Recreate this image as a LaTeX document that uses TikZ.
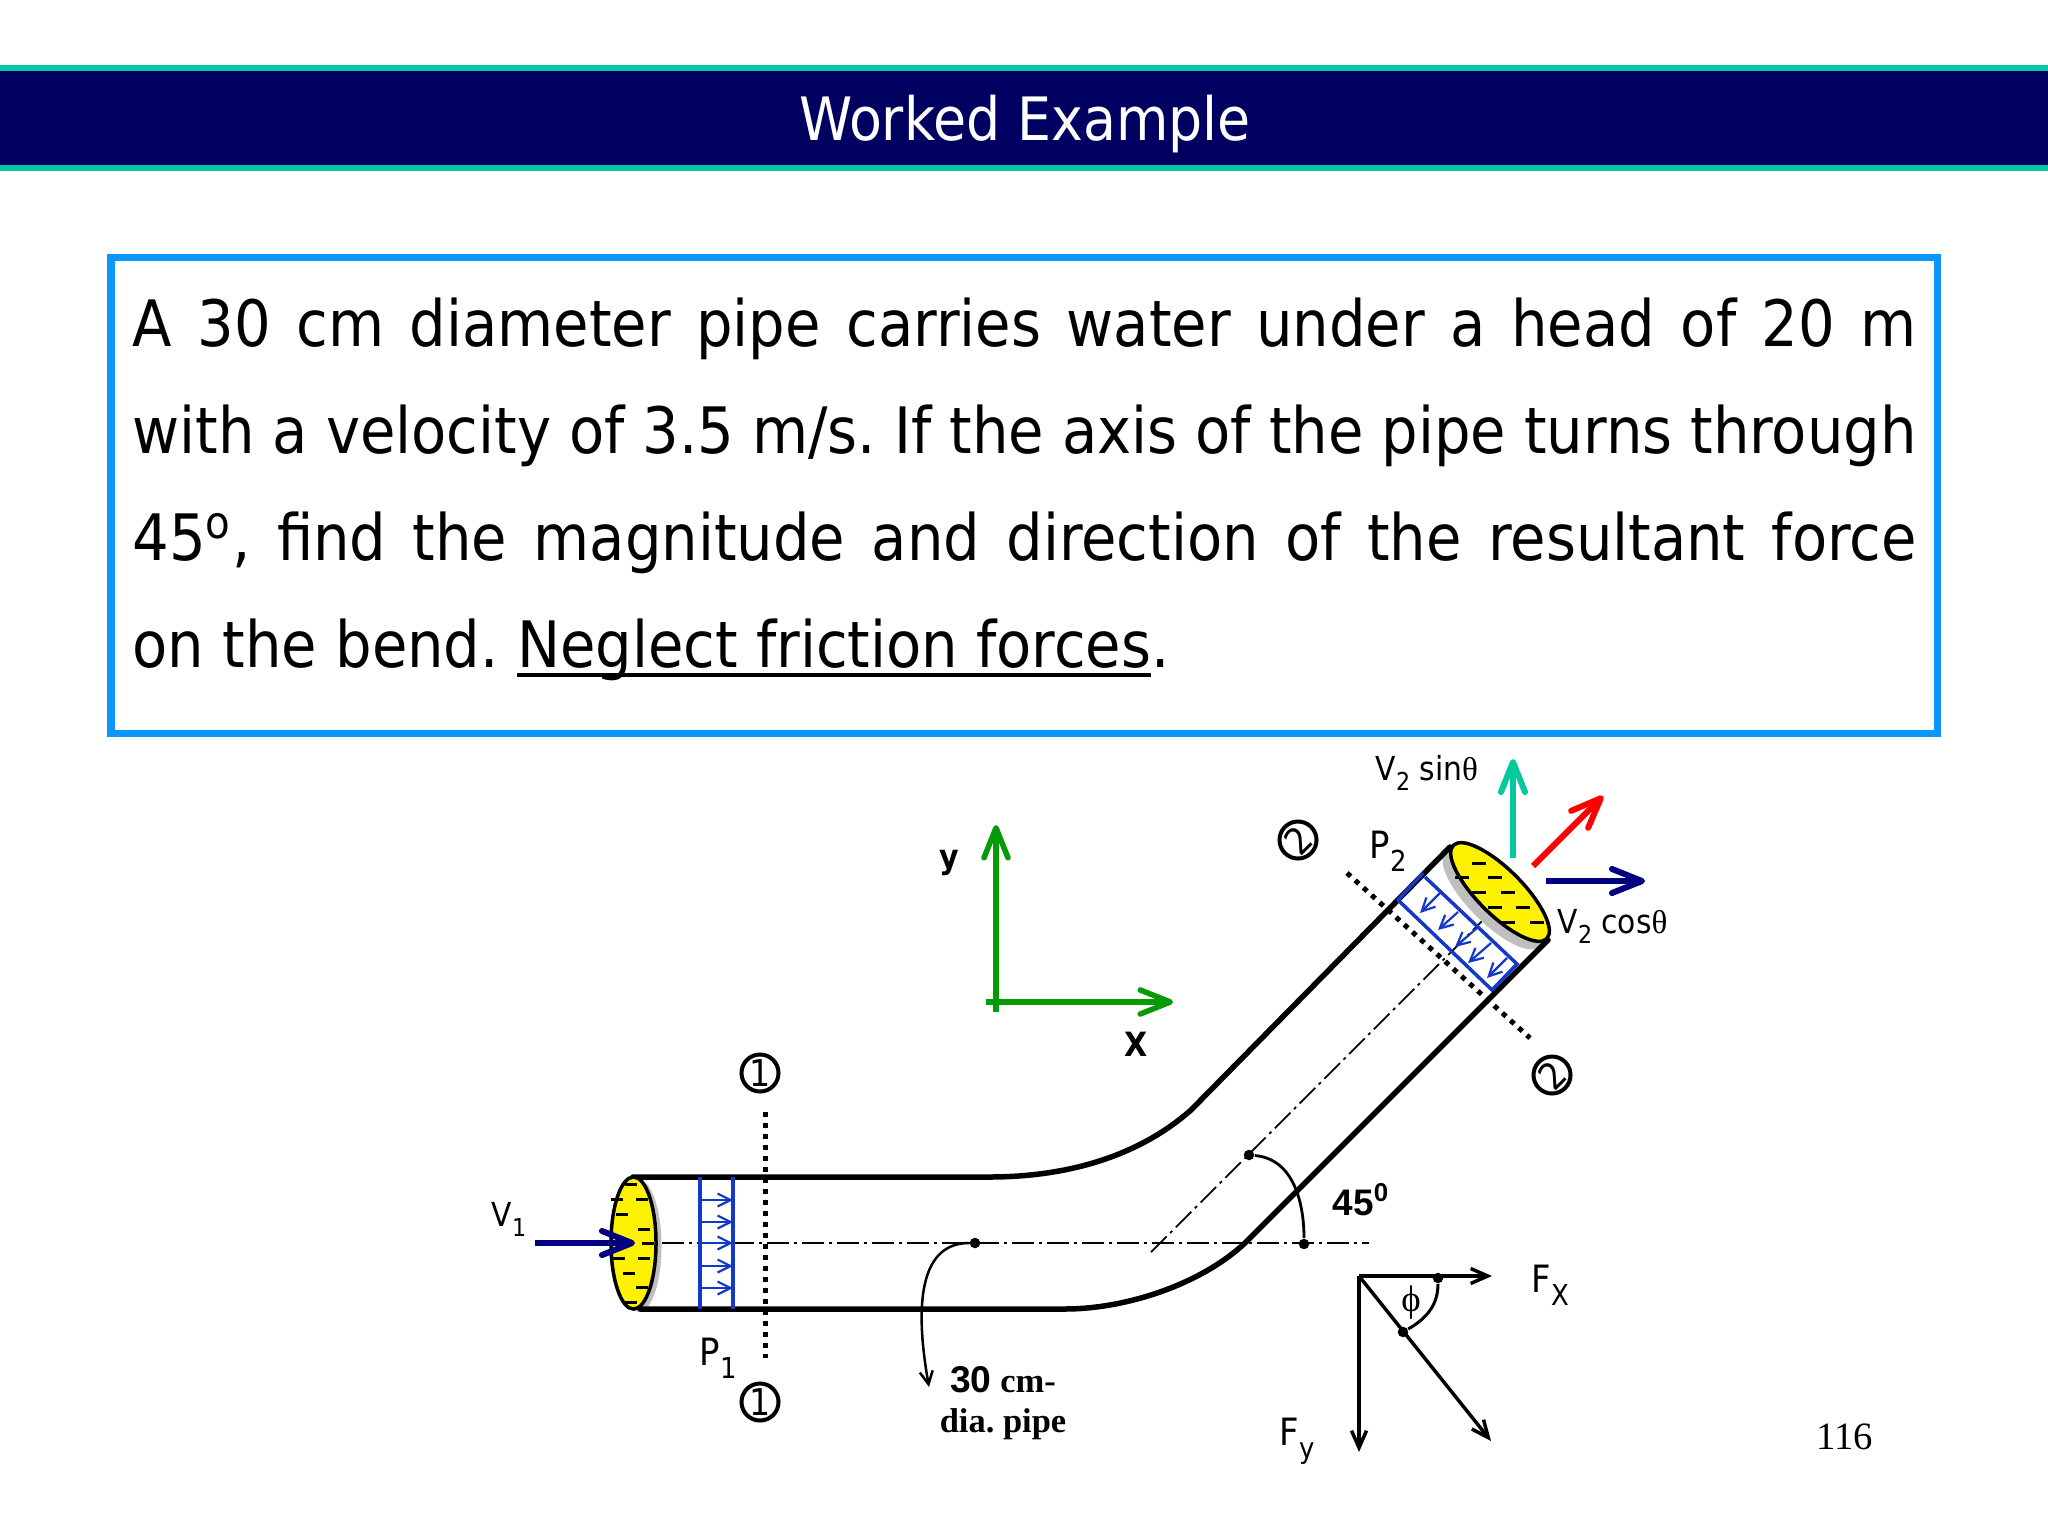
\documentclass[tikz,border=0pt]{standalone}
\usepackage{fontspec}
\setmainfont{DejaVu Sans Condensed}
\newfontfamily\pagefont{Liberation Serif}
\newfontfamily\boldsans{Liberation Sans}
\usetikzlibrary{arrows.meta,shapes.geometric}
\definecolor{bandnavy}{HTML}{000060}
\definecolor{bandteal}{HTML}{08C8A0}
\definecolor{boxblue}{HTML}{0A96FA}
\definecolor{flowblue}{HTML}{1438C8}
\definecolor{flownavy}{HTML}{000080}
\definecolor{axisgreen}{HTML}{069A06}
\newcommand{\lowtxt}[1]{\raisebox{-.1cm}{\fontsize{7}{8}\selectfont #1}}
\newcommand{\lowbig}[1]{\raisebox{-.13cm}{\fontsize{8.2}{9}\selectfont #1}}
\newcommand{\lineunder}[1]{\setbox0\hbox{#1}\rlap{\rule[-.1cm]{\wd0}{.045cm}}\box0}
\frenchspacing
\begin{document}
\begin{tikzpicture}[x=.01cm, y=-.01cm,
    bigtip/.tip={Straight Barb[length=.3cm,width=.24cm,round]},
    thintip/.tip={Straight Barb[length=.17cm,width=.15cm]},
    smalltip/.tip={Straight Barb[length=.13cm,width=.13cm]},
    pipewall/.style ={line width=.055cm, line cap=round},
    centreline/.style ={line width=.018cm, dash pattern=on .22cm off .05cm on .03cm off .05cm},
    sectionline/.style ={line width=.05cm, dash pattern=on .05cm off .06cm},
    fluid/.style ={ellipse, draw, fill=yellow, line width=.035cm, inner sep=0pt, minimum width=1.32cm, minimum height=.45cm},
    backing/.style ={ellipse, fill=black!25, inner sep=0pt, minimum width=1.32cm, minimum height=.45cm},
    fluidmark/.style ={line width=.03cm},
    pressure/.style ={draw=flowblue, line width=.035cm},
    pressurearrow/.style ={draw=flowblue, line width=.022cm, -{smalltip}},
    velocity/.style ={line width=.06cm, -{bigtip}},
    force/.style ={line width=.035cm, -{thintip}},
    sectionmark/.style ={circle, draw, line width=.04cm, inner sep=0pt, minimum size=.37cm, font=\fontsize{10.5}{11}\selectfont},
    bigtext/.style ={anchor=base west, inner sep=0pt, font=\fontsize{10.7}{12}\selectfont},
    smalltext/.style ={anchor=base west, inner sep=0pt, font=\fontsize{9.4}{11}\selectfont},
    dimtext/.style ={anchor=base, inner sep=0pt, font=\pagefont\bfseries\fontsize{9.8}{11}\selectfont},
    joint/.style ={circle, fill, inner sep=0pt, minimum size=.105cm}]
   \useasboundingbox (0,0) rectangle (2048,1536);
   % header band
   \fill[bandteal] (0,65) rectangle (2048,171);
   \fill[bandnavy] (0,71) rectangle (2048,165);
   \node[anchor=base, text=white, inner sep=0pt, font=\fontsize{17}{20}\selectfont] (title) at (1025,140) {Worked Example};
   % problem statement
   \draw[boxblue, line width=.07cm] (111,257) rectangle (1937,733);
   \node[anchor=north west, inner sep=0pt, text width=17.83cm, align=justify,
         font=\fontsize{18.2}{30.4}\selectfont] (statement) at (132,297)
     {A 30 cm diameter pipe carries water under a head of 20 m\linebreak
      with a velocity of 3.5 m/s. If the axis of the pipe turns through\linebreak
      45\textsuperscript{o}, find the magnitude and direction of the resultant force\linebreak
      on the bend. \lineunder{Neglect friction forces}.};
   % axes
   \coordinate (axisV0) at (996,1012);
   \coordinate (axisV1) at (996,825);
   \coordinate (axisH0) at (986,1002);
   \coordinate (axisH1) at (1173,1002);
   \draw[axisgreen, line width=.055cm, -{bigtip}] (axisV0) -- (axisV1);
   \draw[axisgreen, line width=.055cm, -{bigtip}] (axisH0) -- (axisH1);
   \node[font=\bfseries\fontsize{9.5}{11}\selectfont, inner sep=0pt] (ylabel) at (949,863) {y};
   \node[font=\bfseries\fontsize{9.5}{11}\selectfont, inner sep=0pt] (xlabel) at (1136,1044) {X};
   % section lines
   \coordinate (cutA0) at (765,1112);
   \coordinate (cutA1) at (765,1358);
   \coordinate (cutB0) at (1347,873);
   \coordinate (cutB1) at (1530,1038);
   \draw[sectionline] (cutA0) -- (cutA1);
   \draw[sectionline] (cutB0) -- (cutB1);
   \node[sectionmark] (markA) at (760,1073) {1};
   \node[sectionmark] (markB) at (760,1402) {1};
   \node[sectionmark, rotate=45] (markC) at (1298,840) {2};
   \node[sectionmark, rotate=45] (markD) at (1552,1075) {2};
   % centre lines
   \coordinate (axisA0) at (662,1243);
   \coordinate (axisA1) at (1369,1243);
   \coordinate (axisB0) at (1151,1252);
   \coordinate (axisB1) at (1485,918);
   \draw[centreline] (axisA0) -- (axisA1);
   \draw[centreline] (axisB0) -- (axisB1);
   % pipe
   \node[backing, rotate=90] (inletback) at (639,1246) {};
   \node[backing, rotate=-45] (outletback) at (1492,900) {};
   \draw[pipewall] (633,1177) -- (989,1177) .. controls (1070,1177) and (1140,1155) .. (1191,1110) -- (1450,847);
   \draw[pipewall] (640,1309) -- (1065,1309) .. controls (1125,1309) and (1200,1285) .. (1245,1243) -- (1548,940);
   % pressure bands
   \draw[pressure] (700,1177) -- (700,1309);
   \draw[pressure] (733,1177) -- (733,1309);
   \foreach \y in {1200,1222,1243,1266,1288}
     \draw[pressurearrow] (700,\y) -- (733,\y);
   \draw[pressure] (1425,877) -- (1517,964) -- (1492,990) -- (1398,900) -- (1423,873);
   \foreach \xa/\ya/\xb/\yb in {1440/893/1420/913,1458/912/1438/930,1477/928/1455/947,1491/943/1468/963,1507/958/1487/978}
     \draw[pressurearrow] (\xa,\ya) -- (\xb,\yb);
   % fluid faces
   \node[fluid, rotate=90] (inlet) at (633.5,1243) {};
   \node[fluid, rotate=-45] (outlet) at (1500,892) {};
   \foreach \x/\y in {631/1184,642/1199,617/1199,622/1214,644/1229,648/1243,644/1258,619/1258,629/1273,642/1287,631/1302}
     \draw[fluidmark] (\x-6,\y) -- (\x+6,\y);
   \foreach \x/\y in {1479/863,1462/877,1495/877,1479/892,1508/892,1495/907,1523/907,1508/922,1537/922}
     \draw[fluidmark] (\x-7,\y) -- (\x+7,\y);
   % velocities
   \coordinate (inflow0) at (535,1243);
   \coordinate (inflow1) at (635,1243);
   \coordinate (up0) at (1513,858);
   \coordinate (up1) at (1513,759);
   \coordinate (out0) at (1533,866);
   \coordinate (out1) at (1603,796);
   \coordinate (right0) at (1546,881);
   \coordinate (right1) at (1645,881);
   \draw[velocity, flownavy] (inflow0) -- (inflow1);
   \draw[velocity, bandteal] (up0) -- (up1);
   \draw[velocity, red] (out0) -- (out1);
   \draw[velocity, flownavy] (right0) -- (right1);
   \node[smalltext] (vone) at (491,1226) {V\lowtxt{1}};
   \node[smalltext] (vsin) at (1375,780) {V\lowtxt{2} sin{\pagefont θ}};
   \node[smalltext] (vcos) at (1557,933) {V\lowtxt{2} cos{\pagefont θ}};
   \node[bigtext] (pone) at (699,1365) {P\lowbig{1}};
   \node[bigtext] (ptwo) at (1369,858) {P\lowbig{2}};
   % angle and diameter
   \node[joint] (bendA) at (1249,1155) {};
   \node[joint] (bendB) at (1304,1244) {};
   \node[joint] (dia) at (975,1243) {};
   \coordinate (diaend) at (929,1387);
   \draw[line width=.028cm] (bendA) to [out=-5,in=90] (bendB);
   \draw[line width=.025cm, -{smalltip}] (dia) to [out=180,in=100] (diaend);
   \node[anchor=base west, inner sep=0pt, font=\boldsans\bfseries\fontsize{10.5}{11}\selectfont] (angle) at (1332,1215) {45\textsuperscript{0}};
   \node[dimtext] (diaA) at (1003,1392) {{\boldsans\fontsize{10.6}{11}\selectfont 30} cm-};
   \node[dimtext] (diaB) at (1003,1432) {dia. pipe};
   % forces
   \coordinate (origin) at (1359,1276);
   \coordinate (fxend) at (1492,1276);
   \coordinate (fyend) at (1359,1452);
   \coordinate (frend) at (1491,1441);
   \draw[force] (origin) -- (fxend);
   \draw[force] (origin) -- (fyend);
   \draw[force] (origin) -- (frend);
   \node[joint] (phiA) at (1438,1278) {};
   \node[joint] (phiB) at (1403,1332) {};
   \draw[line width=.03cm] (phiA) to [out=-90,in=30] (phiB);
   \node[inner sep=0pt, font=\pagefont\fontsize{10.5}{12}\selectfont] (philabel) at (1411,1303) {ϕ};
   \node[bigtext] (fx) at (1531,1292) {F\lowbig{X}};
   \node[bigtext] (fy) at (1279,1445) {F\lowbig{y}};
   \node[inner sep=0pt, font=\pagefont\fontsize{11}{12}\selectfont] (page) at (1845,1437) {116};
 \end{tikzpicture}
\end{document}
